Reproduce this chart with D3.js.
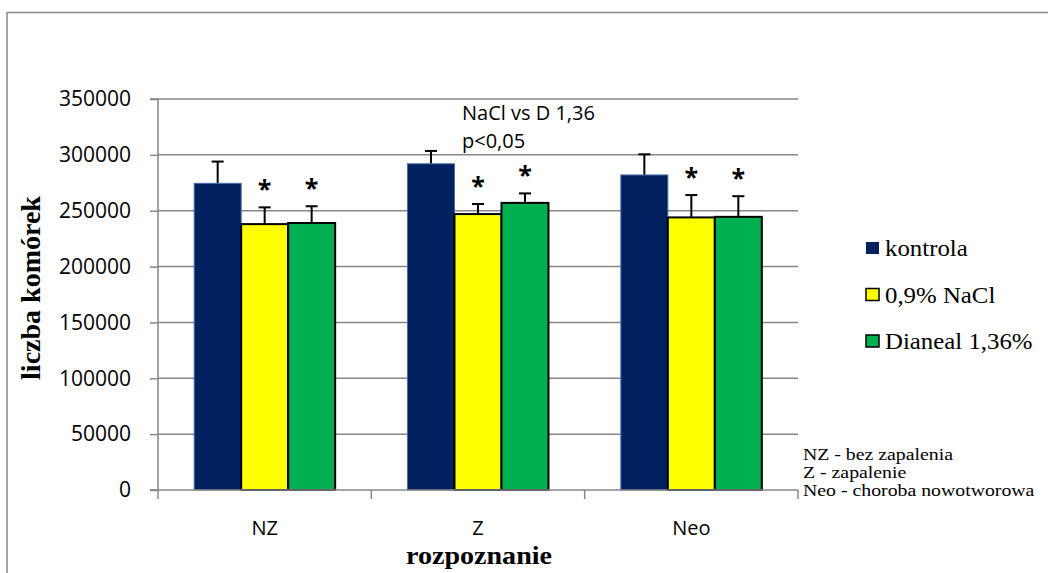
<!DOCTYPE html>
<html>

<head>
    <meta charset="utf-8">
    <title>liczba komórek</title>
    <script src="https://cdn.jsdelivr.net/npm/d3@7"></script>
    <style>
        body { margin: 0; background: #fff; }
    </style>
</head>

<body>
    <svg width="1048" height="573" id="mainsvg"></svg>
    <script>
        // data
        const categories = ['NZ', 'Z', 'Neo'];
        const seriesNames = ['kontrola', '0,9% NaCl', 'Dianeal 1,36%'];
        const kontrola = [274500, 292000, 282000];
        const kontrolaErr = [19500, 11500, 18500];
        const nacl = [238000, 247000, 244000];
        const naclErr = [15000, 9000, 20000];
        const dianeal = [239000, 257000, 244500];
        const dianealErr = [15000, 8500, 18500];
        const starred = [false, true, true]; // per series
        const yTicks = [0, 50000, 100000, 150000, 200000, 250000, 300000, 350000];
        const notes = ['NZ - bez zapalenia', 'Z - zapalenie', 'Neo - choroba nowotworowa'];
        const annotation = ['NaCl vs D 1,36', 'p<0,05'];

        const values = [kontrola, nacl, dianeal];
        const errors = [kontrolaErr, naclErr, dianealErr];
        const colors = ['#002060', '#ffff00', '#00b050'];
        const strokes = ['#4a6aa8', '#000', '#000'];

        const svg = d3.select('svg');
        const grid = '#878787';
        const sans = '"Open Sans", sans-serif';
        const serif = '"Liberation Serif", "Times New Roman", serif';

        // outer chart frame (runs off the right and bottom edges)
        svg.append('path')
            .attr('d', 'M7,1000 L7,12.5 L1100,12.5')
            .attr('fill', 'none').attr('stroke', grid).attr('stroke-width', 1.5);

        const x = d3.scaleBand().domain(categories).range([158, 798]);
        const x1 = d3.scaleBand().domain(d3.range(3)).range([0, x.bandwidth()])
            .paddingInner(0).paddingOuter(0.77);
        const y = d3.scaleLinear().domain([0, 350000]).range([490, 99]);

        // gridlines + y ticks
        svg.append('g').selectAll('line').data(yTicks.slice(1)).join('line')
            .attr('x1', 158).attr('x2', 798)
            .attr('y1', d => y(d)).attr('y2', d => y(d))
            .attr('stroke', grid).attr('stroke-width', 1.5);

        const yAxis = svg.append('g').attr('transform', 'translate(158,0)')
            .call(d3.axisLeft(y).tickValues(yTicks).tickSize(8).tickPadding(19).tickFormat(d3.format('d')));
        yAxis.select('.domain').attr('stroke', grid).attr('stroke-width', 1.5).attr('d', `M-8,${y(0)}H0V${y(350000)}H-8`);
        yAxis.selectAll('.tick line').attr('stroke', grid).attr('stroke-width', 1.5);
        yAxis.selectAll('.tick text').attr('font-family', sans).attr('font-size', 21).attr('fill', '#000');

        // bars
        const groups = svg.append('g').selectAll('g').data(categories).join('g')
            .attr('transform', d => `translate(${x(d)},0)`);

        groups.each(function (cat, ci) {
            const g = d3.select(this);
            values.forEach((vals, si) => {
                const bx = x1(si);
                const bw = x1.bandwidth();
                const top = y(vals[ci]);
                const etop = y(vals[ci] + errors[si][ci]);
                const cx = bx + bw / 2;
                g.append('line').attr('x1', cx).attr('x2', cx).attr('y1', top).attr('y2', etop)
                    .attr('stroke', '#000').attr('stroke-width', 2);
                g.append('line').attr('x1', cx - 6).attr('x2', cx + 6).attr('y1', etop).attr('y2', etop)
                    .attr('stroke', '#000').attr('stroke-width', 2);
                g.append('rect')
                    .attr('x', bx).attr('y', top)
                    .attr('width', bw).attr('height', y(0) - top)
                    .attr('fill', colors[si])
                    .attr('stroke', strokes[si]).attr('stroke-width', si === 0 ? 1 : 2);
                if (starred[si]) {
                    g.append('text').attr('x', cx).attr('y', etop - 9)
                        .attr('text-anchor', 'middle')
                        .attr('font-family', sans).attr('font-size', 25).attr('font-weight', 'bold')
                        .text('*');
                }
            });
        });

        // x axis
        const xAxis = svg.append('g').attr('transform', `translate(0,${y(0)})`)
            .call(d3.axisBottom(x).tickSize(0).tickPadding(31));
        xAxis.select('.domain').remove();
        xAxis.selectAll('.tick text').attr('font-family', sans).attr('font-size', 20).attr('fill', '#000');
        svg.append('line').attr('x1', 150).attr('x2', 798).attr('y1', y(0)).attr('y2', y(0))
            .attr('stroke', grid).attr('stroke-width', 1.5);
        svg.append('g').selectAll('line').data(categories.map(c => x(c)).concat([798])).join('line')
            .attr('x1', d => d).attr('x2', d => d).attr('y1', y(0)).attr('y2', y(0) + 9)
            .attr('stroke', grid).attr('stroke-width', 1.5);

        // axis titles
        svg.append('text')
            .attr('transform', 'translate(40,288) rotate(-90)')
            .attr('text-anchor', 'middle')
            .attr('font-family', serif).attr('font-size', 28).attr('font-weight', 'bold')
            .text('liczba komórek');
        svg.append('text')
            .attr('transform', 'translate(479,564) scale(1.08,1)')
            .attr('text-anchor', 'middle')
            .attr('font-family', serif).attr('font-size', 26).attr('font-weight', 'bold')
            .text('rozpoznanie');

        // annotation
        svg.append('g').selectAll('text').data(annotation).join('text')
            .attr('x', 462).attr('y', (d, i) => 120 + i * 28)
            .attr('font-family', sans).attr('font-size', 20)
            .text(d => d);

        // legend
        const legend = svg.append('g').selectAll('g').data(seriesNames).join('g')
            .attr('transform', (d, i) => `translate(866,${248 + i * 46.5})`);
        legend.append('rect')
            .attr('x', 0).attr('y', -6).attr('width', 13).attr('height', 12)
            .attr('fill', (d, i) => colors[i])
            .attr('stroke', (d, i) => i === 0 ? 'none' : '#000').attr('stroke-width', 1.5);
        legend.append('text')
            .attr('transform', 'translate(19,8) scale(1.08,1)')
            .attr('font-family', serif).attr('font-size', 23)
            .text(d => d);

        // notes
        svg.append('g').selectAll('text').data(notes).join('text')
            .attr('transform', (d, i) => `translate(803,${460 + i * 18}) scale(1.2,1)`)
            .attr('font-family', serif).attr('font-size', 16.5)
            .text(d => d);
    </script>
</body>

</html>
